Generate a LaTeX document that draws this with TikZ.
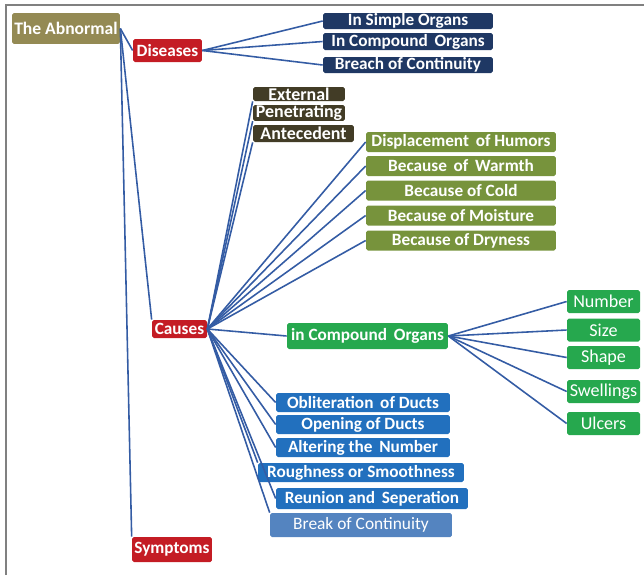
\documentclass[tikz,border=0pt]{standalone}
\usepackage{fontspec}
\setmainfont{Carlito}
\usepackage{tikz}
\usetikzlibrary{positioning}
\definecolor{rootolive}{RGB}{148, 138, 84}
\definecolor{headred}{RGB}{196, 28, 36}
\definecolor{deepnavy}{RGB}{31, 56, 100}
\definecolor{darkbrown}{RGB}{66, 60, 38}
\definecolor{leafolive}{RGB}{119, 147, 60}
\definecolor{brightgreen}{RGB}{38, 168, 78}
\definecolor{ductblue}{RGB}{34, 112, 190}
\definecolor{paleblue}{RGB}{84, 132, 192}
\definecolor{linkblue}{RGB}{52, 92, 164}
\definecolor{framegray}{RGB}{128, 128, 128}

\begin{document}
\begin{tikzpicture}[
  x=0.02cm, y=-0.02cm,
  font=\fontsize{9.8}{11}\selectfont\bfseries,
  box/.style={rectangle, rounded corners=1pt, inner sep=0pt, text=white, align=center},
  rootbox/.style={box, fill=rootolive, font=\fontsize{10}{12}\selectfont\bfseries},
  headbox/.style={box, fill=headred},
  navybox/.style={box, fill=deepnavy, minimum width=3.4cm},
  brownbox/.style={box, fill=darkbrown, minimum width=1.84cm, minimum height=0.28cm, font=\fontsize{10.2}{11}\selectfont\bfseries},
  olivebox/.style={box, fill=leafolive, minimum width=3.8cm, minimum height=0.4cm},
  greenbox/.style={box, fill=brightgreen},
  leafbox/.style={box, fill=brightgreen, minimum width=1.46cm, minimum height=0.46cm, font=\fontsize{10.3}{12}\selectfont},
  ductbox/.style={box, fill=ductblue, minimum height=0.38cm},
  link/.style={draw=linkblue, line width=0.9pt}
]
\useasboundingbox (0,0) rectangle (644,575);
\draw[framegray, line width=1.2pt] (6,575) -- (6,5) -- (644,5);

\node[rootbox, minimum width=2.16cm, minimum height=0.62cm] (abn) at (66,28.5) {The Abnormal};
\node[headbox, minimum width=1.38cm, minimum height=0.46cm] (dis) at (167.5,50.5) {Diseases};
\node[headbox, minimum width=1.1cm, minimum height=0.36cm] (cau) at (179.5,329) {Causes};
\node[headbox, minimum width=1.6cm, minimum height=0.5cm] (sym) at (172,549.5) {Symptoms};

\node[navybox, minimum height=0.32cm] (simple) at (408,21) {In Simple Organs};
\node[navybox, minimum height=0.34cm] (compound) at (408,41.5) {In Compound\, Organs};
\node[navybox, minimum height=0.32cm] (breach) at (408,65) {Breach of Continuity};

\node[brownbox] (ext) at (299,94) {External};
\node[brownbox] (pen) at (299,113) {Penetrating};
\node[brownbox, minimum width=2.02cm, minimum height=0.34cm] (ant) at (303.5,133.5) {Antecedent};

\node[olivebox] (humors) at (461,142) {Displacement\, of Humors};
\node[olivebox] (warmth) at (461,166) {Because\, of\, Warmth};
\node[olivebox] (cold) at (461,190.5) {Because of Cold};
\node[olivebox] (moist) at (461,215.5) {Because of Moisture};
\node[olivebox] (dry) at (461,240.5) {Because of Dryness};

\node[greenbox, minimum width=3.22cm, minimum height=0.52cm] (organs) at (367.5,336) {in Compound\, Organs};
\node[leafbox] (number) at (603.5,301.5) {Number};
\node[leafbox] (size) at (603.5,330) {Size};
\node[leafbox] (shape) at (603.5,357.5) {Shape};
\node[leafbox] (swell) at (603.5,391.5) {Swellings};
\node[leafbox] (ulcer) at (603.5,423.5) {Ulcers};

\node[ductbox, minimum width=3.48cm] (oblit) at (363,402.5) {Obliteration\, of Ducts};
\node[ductbox, minimum width=3.48cm] (open) at (363,424.5) {Opening of Ducts};
\node[ductbox, minimum width=3.48cm] (alter) at (363,447.5) {Altering the\, Number};
\node[ductbox, minimum width=4.12cm] (rough) at (361,472.5) {Roughness or Smoothness};
\node[ductbox, minimum width=3.84cm, minimum height=0.42cm] (reunion) at (372,498.5) {Reunion and\, Seperation};
\node[box, fill=paleblue, minimum width=3.64cm, minimum height=0.48cm, font=\fontsize{9.9}{11}\selectfont] (brk) at (361,525) {Break of Continuity};

% trunk
\draw[link] (abn.east) -- (dis.west);
\draw[link] (abn.east) -- (cau.north west);
\draw[link] (abn.east) -- (sym.north west);

% diseases
\draw[link] (dis.east) -- (simple.west);
\draw[link] (dis.east) -- (compound.west);
\draw[link] (dis.east) -- (breach.west);

% causes
\draw[link] (cau.east) -- (ext.south west);
\draw[link] (cau.east) -- (pen.south west);
\draw[link] (cau.east) -- (ant.south west);
\draw[link] (cau.east) -- (humors.west);
\draw[link] (cau.east) -- (warmth.west);
\draw[link] (cau.east) -- (cold.west);
\draw[link] (cau.east) -- (moist.west);
\draw[link] (cau.east) -- (dry.west);
\draw[link] (cau.east) -- (organs.west);
\draw[link] (cau.east) -- (oblit.west);
\draw[link] (cau.east) -- (open.west);
\draw[link] (cau.east) -- (alter.west);
\draw[link] (cau.east) -- (rough.north west);
\draw[link] (cau.east) -- (reunion.west);
\draw[link] (cau.east) -- (brk.north west);

% compound organs
\draw[link] (organs.east) -- (number.west);
\draw[link] (organs.east) -- (size.west);
\draw[link] (organs.east) -- (shape.west);
\draw[link] (organs.east) -- (swell.west);
\draw[link] (organs.east) -- (ulcer.west);

\end{tikzpicture}
\end{document}
